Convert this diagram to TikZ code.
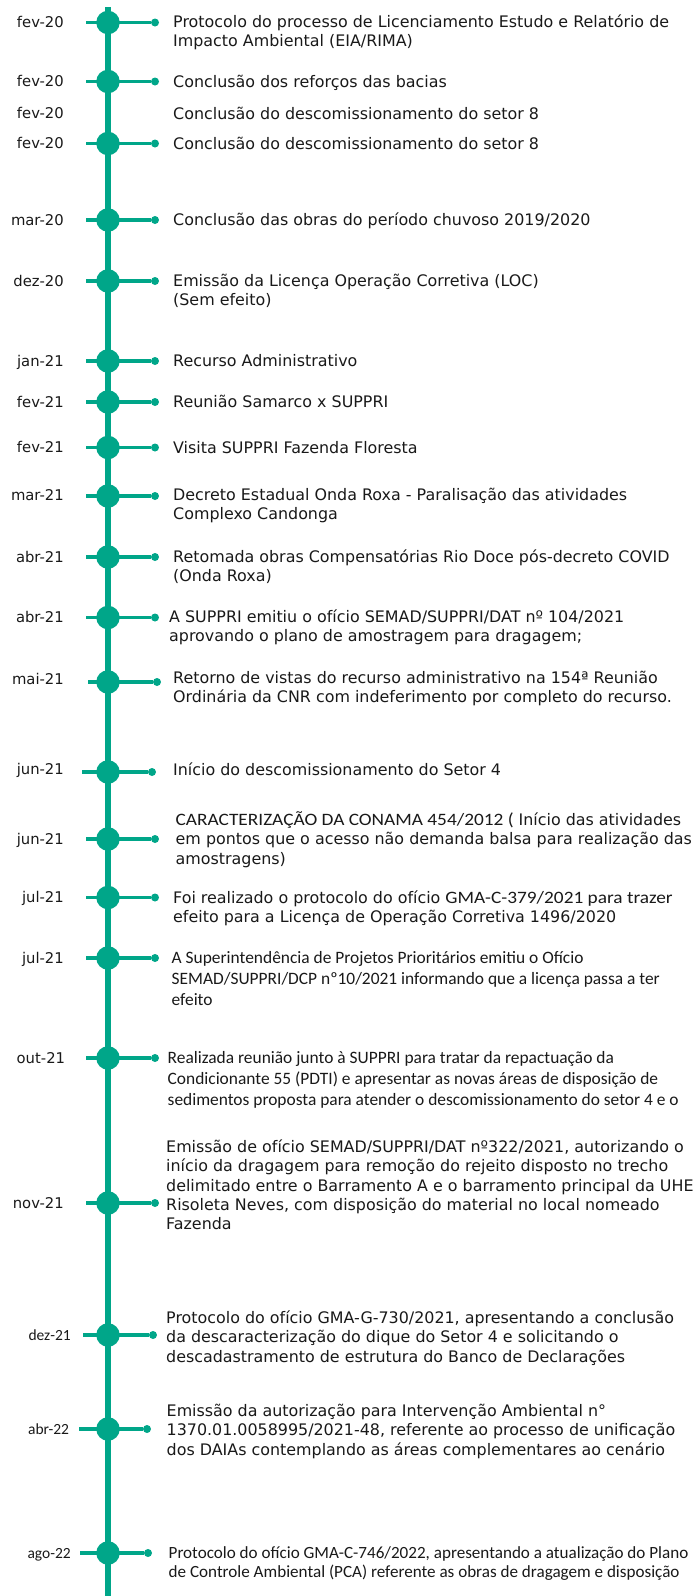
\documentclass[tikz,border=0pt]{standalone}
\usepackage{graphicx}
\usepackage{fontspec}
\setmainfont{DejaVu Sans}
\newfontfamily\calfont{Carlito}
\definecolor{tealmain}{RGB}{0,166,137}
\definecolor{txt}{RGB}{25,25,25}
\tikzset{
  bigdot/.style={circle, fill=tealmain, minimum size=23.5pt, inner sep=0pt},
  smalldot/.style={circle, fill=tealmain, minimum size=8pt, inner sep=0pt},
  conn/.style={draw=tealmain, line width=3.5pt},
  spine/.style={draw=tealmain, line width=6pt},
  datelbl/.style={anchor=base east, inner sep=0pt, text=txt, font=\fontsize{14.8}{20}\selectfont},
  datelblc/.style={anchor=base east, inner sep=0pt, text=txt, font=\calfont\fontsize{15.5}{20}\selectfont},
  evt/.style={anchor=base west, inner sep=0pt, text=txt, font=\fontsize{15.9}{19.3}\selectfont},
  evtc/.style={anchor=base west, inner sep=0pt, text=txt, font=\calfont\fontsize{17.4}{21}\selectfont},
  evtd/.style={anchor=base west, inner sep=0pt, text=txt, font=\calfont\fontsize{17.1}{19}\selectfont},
}
\newcommand\mkev[4]{%
  \coordinate (l#1) at (#3,#2);
  \node[smalldot] (d#1) at (#4,#2) {};
  \draw[conn] (l#1) -- (d#1);
  \node[bigdot] (c#1) at (108,#2) {};
}
\newcommand\lns[1]{\begin{tabular}[t]{@{}l@{}}#1\end{tabular}}
\newcommand\calspan[1]{\scalebox{1.11}[1]{\calfont\fontsize{17.4}{19}\selectfont #1}}
\begin{document}
\begin{tikzpicture}[x=1pt,y=-1pt]
\useasboundingbox (0,0) rectangle (696,1596);
\coordinate (top) at (108,7);
\coordinate (bot) at (108,1596);
\draw[spine] (top) -- (bot);

% 1
\mkev{1}{22.5}{86}{155}
\node[datelbl] (t1) at (64,27.8) {fev-20};
\node[evt] (e1) at (173,27.5) {\lns{Protocolo do processo de Licenciamento Estudo e Relatório de\\Impacto Ambiental (EIA/RIMA)}};
% 2
\mkev{2}{81.5}{86}{155}
\node[datelbl] (t2) at (64,86.8) {fev-20};
\node[evt] (e2) at (173,87) {Conclusão dos reforços das bacias};
% 3 (no marker)
\node[datelbl] (t3) at (64,118.5) {fev-20};
\node[evt] (e3) at (173,119) {Conclusão do descomissionamento do setor 8};
% 4
\mkev{4}{143.5}{86}{155}
\node[datelbl] (t4) at (64,148.8) {fev-20};
\node[evt] (e4) at (173,149) {Conclusão do descomissionamento do setor 8};
% 5
\mkev{5}{220}{86}{155}
\node[datelbl] (t5) at (64,225.3) {mar-20};
\node[evt] (e5) at (173,225.5) {Conclusão das obras do período chuvoso 2019/2020};
% 6
\mkev{6}{281}{86}{155}
\node[datelbl] (t6) at (64,286.3) {dez-20};
\node[evt] (e6) at (173,286.5) {\lns{Emissão da Licença Operação Corretiva (LOC)\\(Sem efeito)}};
% 7
\mkev{7}{361}{86}{155}
\node[datelbl] (t7) at (64,366.3) {jan-21};
\node[evt] (e7) at (173,366.5) {Recurso Administrativo};
% 8
\mkev{8}{402}{86}{155}
\node[datelbl] (t8) at (64,407.3) {fev-21};
\node[evt] (e8) at (173,407.5) {Reunião Samarco x SUPPRI};
% 9
\mkev{9}{447.5}{86}{155}
\node[datelbl] (t9) at (64,452.8) {fev-21};
\node[evt] (e9) at (173,453) {Visita SUPPRI Fazenda Floresta};
% 10
\mkev{10}{496}{86}{155}
\node[datelbl] (t10) at (64,500.8) {mar-21};
\node[evt] (e10) at (173,500.5) {\lns{Decreto Estadual Onda Roxa - Paralisação das atividades\\Complexo Candonga}};
% 11
\mkev{11}{557}{86}{155}
\node[datelbl] (t11) at (64,562.3) {abr-21};
\node[evt] (e11) at (173,562.5) {\lns{Retomada obras Compensatórias Rio Doce pós-decreto COVID\\(Onda Roxa)}};
% 12
\mkev{12}{617.5}{86}{155}
\node[datelbl] (t12) at (64,622.8) {abr-21};
\node[evt] (e12) at (169,622.5) {\lns{A SUPPRI emitiu o ofício SEMAD/SUPPRI/DAT nº 104/2021\\aprovando o plano de amostragem para dragagem;}};
% 13
\mkev{13}{682}{88}{157}
\node[datelbl] (t13) at (64,684.3) {mai-21};
\node[evt] (e13) at (173,683.5) {\lns{Retorno de vistas do recurso administrativo na 154ª Reunião\\Ordinária da CNR com indeferimento por completo do recurso.}};
% 14
\mkev{14}{772}{82}{152}
\node[datelbl] (t14) at (64,774.3) {jun-21};
\node[evt] (e14) at (173,775.5) {Início do descomissionamento do Setor 4};
% 15
\mkev{15}{839}{86}{155}
\node[datelbl] (t15) at (64,844.3) {jun-21};
\node[evt] (e15) at (175.5,825.5) {\lns{\calspan{CARACTERIZAÇÃO DA CONAMA 454/2012 (} Início das atividades\\em pontos que o acesso não demanda balsa para realização das\\amostragens)}};
% 16
\mkev{16}{897.5}{86}{155}
\node[datelbl] (t16) at (64,902.8) {jul-21};
\node[evt] (e16) at (173,903.5) {\lns{Foi realizado o protocolo do ofício \calspan{GMA-C-379/2021 para trazer}\\efeito para a Licença de Operação Corretiva 1496/2020}};
% 17
\mkev{17}{958}{86}{155}
\node[datelbl] (t17) at (64,963.3) {jul-21};
\node[evtc] (e17) at (171.5,963) {\lns{A Superintendência de Projetos Prioritários emitiu o Ofício\\SEMAD/SUPPRI/DCP nº10/2021 informando que a licença passa a ter\\efeito}};
% 18
\mkev{18}{1058}{86}{155}
\node[datelbl] (t18) at (65.3,1063.3) {out-21};
\node[evtc] (e18) at (167.5,1063) {\lns{Realizada reunião junto à SUPPRI para tratar da repactuação da\\Condicionante 55 (PDTI) e apresentar as novas áreas de disposição de\\sedimentos proposta para atender o descomissionamento do setor 4 e o}};
% 19
\mkev{19}{1203}{86}{155}
\node[datelbl] (t19) at (64,1208.3) {nov-21};
\node[evt] (e19) at (166,1152.5) {\lns{Emissão de ofício SEMAD/SUPPRI/DAT nº322/2021, autorizando o\\início da dragagem para remoção do rejeito disposto no trecho\\delimitado entre o Barramento A e o barramento principal da UHE\\Risoleta Neves, com disposição do material no local nomeado\\Fazenda}};
% 20
\mkev{20}{1335}{83}{153}
\node[datelblc] (t20) at (71,1340) {dez-21};
\node[evt] (e20) at (166,1323.5) {\lns{Protocolo do ofício GMA-G-730/2021, apresentando a conclusão\\da descaracterização do dique do Setor 4 e solicitando o\\descadastramento de estrutura do Banco de Declarações}};
% 21
\mkev{21}{1429}{79}{147}
\node[datelblc] (t21) at (69.3,1434) {abr-22};
\node[evt] (e21) at (166.5,1416.5) {\lns{Emissão da autorização para Intervenção Ambiental n°\\1370.01.0058995/2021-48, referente ao processo de unificação\\dos DAIAs contemplando as áreas complementares ao cenário}};
% 22
\mkev{22}{1553}{80}{148}
\node[datelblc] (t22) at (71,1558) {ago-22};
\node[evtd] (e22) at (168.5,1558.5) {\lns{Protocolo do ofício GMA-C-746/2022, apresentando a atualização do Plano\\de Controle Ambiental (PCA) referente as obras de dragagem e disposição}};
\end{tikzpicture}
\end{document}
